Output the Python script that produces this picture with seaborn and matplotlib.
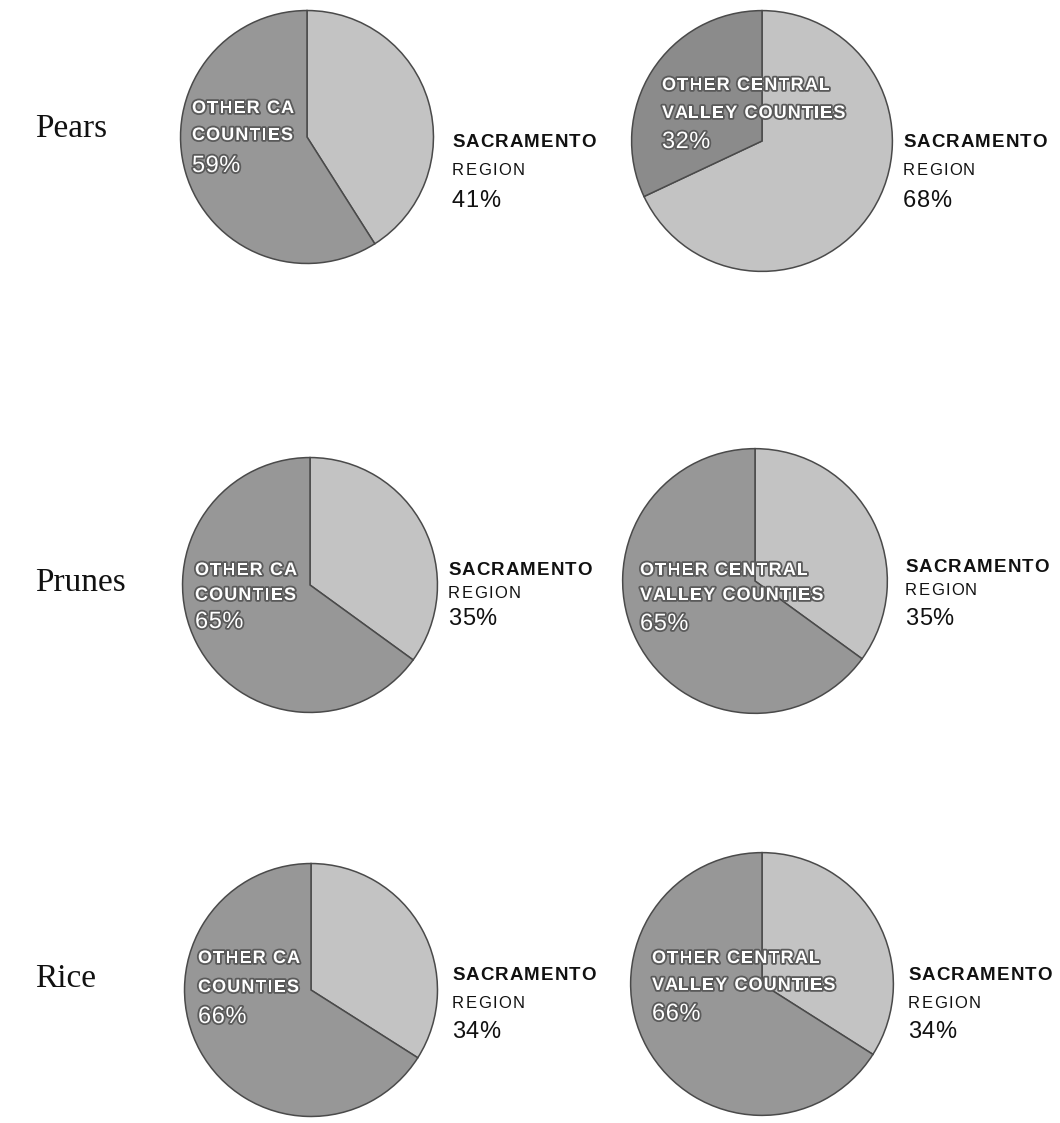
import matplotlib
matplotlib.use("Agg")
import matplotlib.pyplot as plt
import matplotlib.patheffects as pe
import seaborn as sns

# Share of production by crop: Sacramento region vs. the rest
crops = ["Pears", "Prunes", "Rice"]
sacramento_vs_state = [41, 35, 34]
other_ca_counties = [59, 65, 66]
sacramento_vs_valley = [68, 35, 34]
other_valley_counties = [32, 65, 66]

state_label = ["OTHER CA", "COUNTIES"]
valley_label = ["OTHER CENTRAL", "VALLEY COUNTIES"]
sac_label = ["SACRAMENTO", "REGION"]

sns.set_theme(style="white")
plt.rcParams["font.family"] = ["Liberation Sans", "DejaVu Sans"]

W, H = 1060, 1123
fig = plt.figure(figsize=(W / 100, H / 100), dpi=100)
fig.patch.set_facecolor("white")
renderer = fig.canvas.get_renderer()

light, dark = sns.color_palette(["#c3c3c3", "#979797"])
dark_deep = "#8b8b8b"

# pie geometry in pixels: (cx, cy, r)
geom_left = [(307, 137, 129), (310, 585, 130), (311, 990, 129)]
geom_right = [(762, 141, 133), (755, 581, 135), (762, 984, 134)]

# baselines (pixels) for inside labels, outside labels, and left x positions
inside_left = [(192, [113, 140, 172]), (195, [575, 600, 628]), (198, [963, 992, 1023])]
outside_left = [(452, [147, 175, 207]), (448, [575, 598, 625]), (452, [980, 1008, 1038])]
inside_right = [(662, [90, 118, 148]), (640, [575, 600, 630]), (652, [963, 990, 1020])]
outside_right = [(903, [147, 175, 207]), (905, [572, 595, 625]), (908, [980, 1008, 1038])]
row_baselines = [137, 591, 987]


def fx(x):
    return x / W


def fy(y):
    return 1 - y / H


def tracked(x, y, s, track=1.2, **kw):
    """Draw text at pixel (x, baseline y) with extra letter spacing."""
    probe = fig.text(0, 0, "", **kw)
    for k, ch in enumerate(s):
        probe.set_text(s[:k] if k else "")
        if k:
            probe.set_text(s[:k].replace(" ", "\u00a0"))
            w = probe.get_window_extent(renderer).width
        else:
            w = 0.0
        if ch != " ":
            fig.text(fx(x + w + k * track), fy(y), ch, va="baseline",
                     ha="left", **kw)
    probe.remove()


def draw_pie(geom, sac, other, other_color):
    cx, cy, r = geom
    ax = fig.add_axes([fx(cx - r), fy(cy + r), 2 * r / W, 2 * r / H])
    ax.pie([sac, other], colors=[light, other_color], startangle=90,
           counterclock=False, radius=1.0,
           wedgeprops=dict(edgecolor="#4a4a4a", linewidth=1.1))
    ax.set_xlim(-1.02, 1.02)
    ax.set_ylim(-1.02, 1.02)
    ax.axis("off")


halo = [pe.withStroke(linewidth=2.6, foreground="#5a5a5a")]


def inside_text(pos, lines, value):
    x, ys = pos
    tracked(x, ys[0], lines[0], 1.1, color="white", fontsize=13,
            fontweight="bold", path_effects=halo)
    tracked(x, ys[1], lines[1], 1.1, color="white", fontsize=13,
            fontweight="bold", path_effects=halo)
    tracked(x, ys[2], f"{value}%", 0.5, color="white", fontsize=17,
            path_effects=halo)


def outside_text(pos, value):
    x, ys = pos
    tracked(x, ys[0], sac_label[0], 1.1, color="#111111", fontsize=13.5,
            fontweight="bold")
    tracked(x, ys[1], sac_label[1], 1.3, color="#111111", fontsize=12)
    tracked(x, ys[2], f"{value}%", 0.5, color="#111111", fontsize=17)


for i, crop in enumerate(crops):
    draw_pie(geom_left[i], sacramento_vs_state[i], other_ca_counties[i], dark)
    draw_pie(geom_right[i], sacramento_vs_valley[i], other_valley_counties[i],
             dark_deep if i == 0 else dark)
    inside_text(inside_left[i], state_label, other_ca_counties[i])
    inside_text(inside_right[i], valley_label, other_valley_counties[i])
    outside_text(outside_left[i], sacramento_vs_state[i])
    outside_text(outside_right[i], sacramento_vs_valley[i])
    fig.text(fx(35), fy(row_baselines[i]), crop, fontsize=24,
             family=["Liberation Serif", "DejaVu Serif"], color="#111111",
             va="baseline", ha="left")

fig.savefig("out.png", dpi=100, facecolor="white")
